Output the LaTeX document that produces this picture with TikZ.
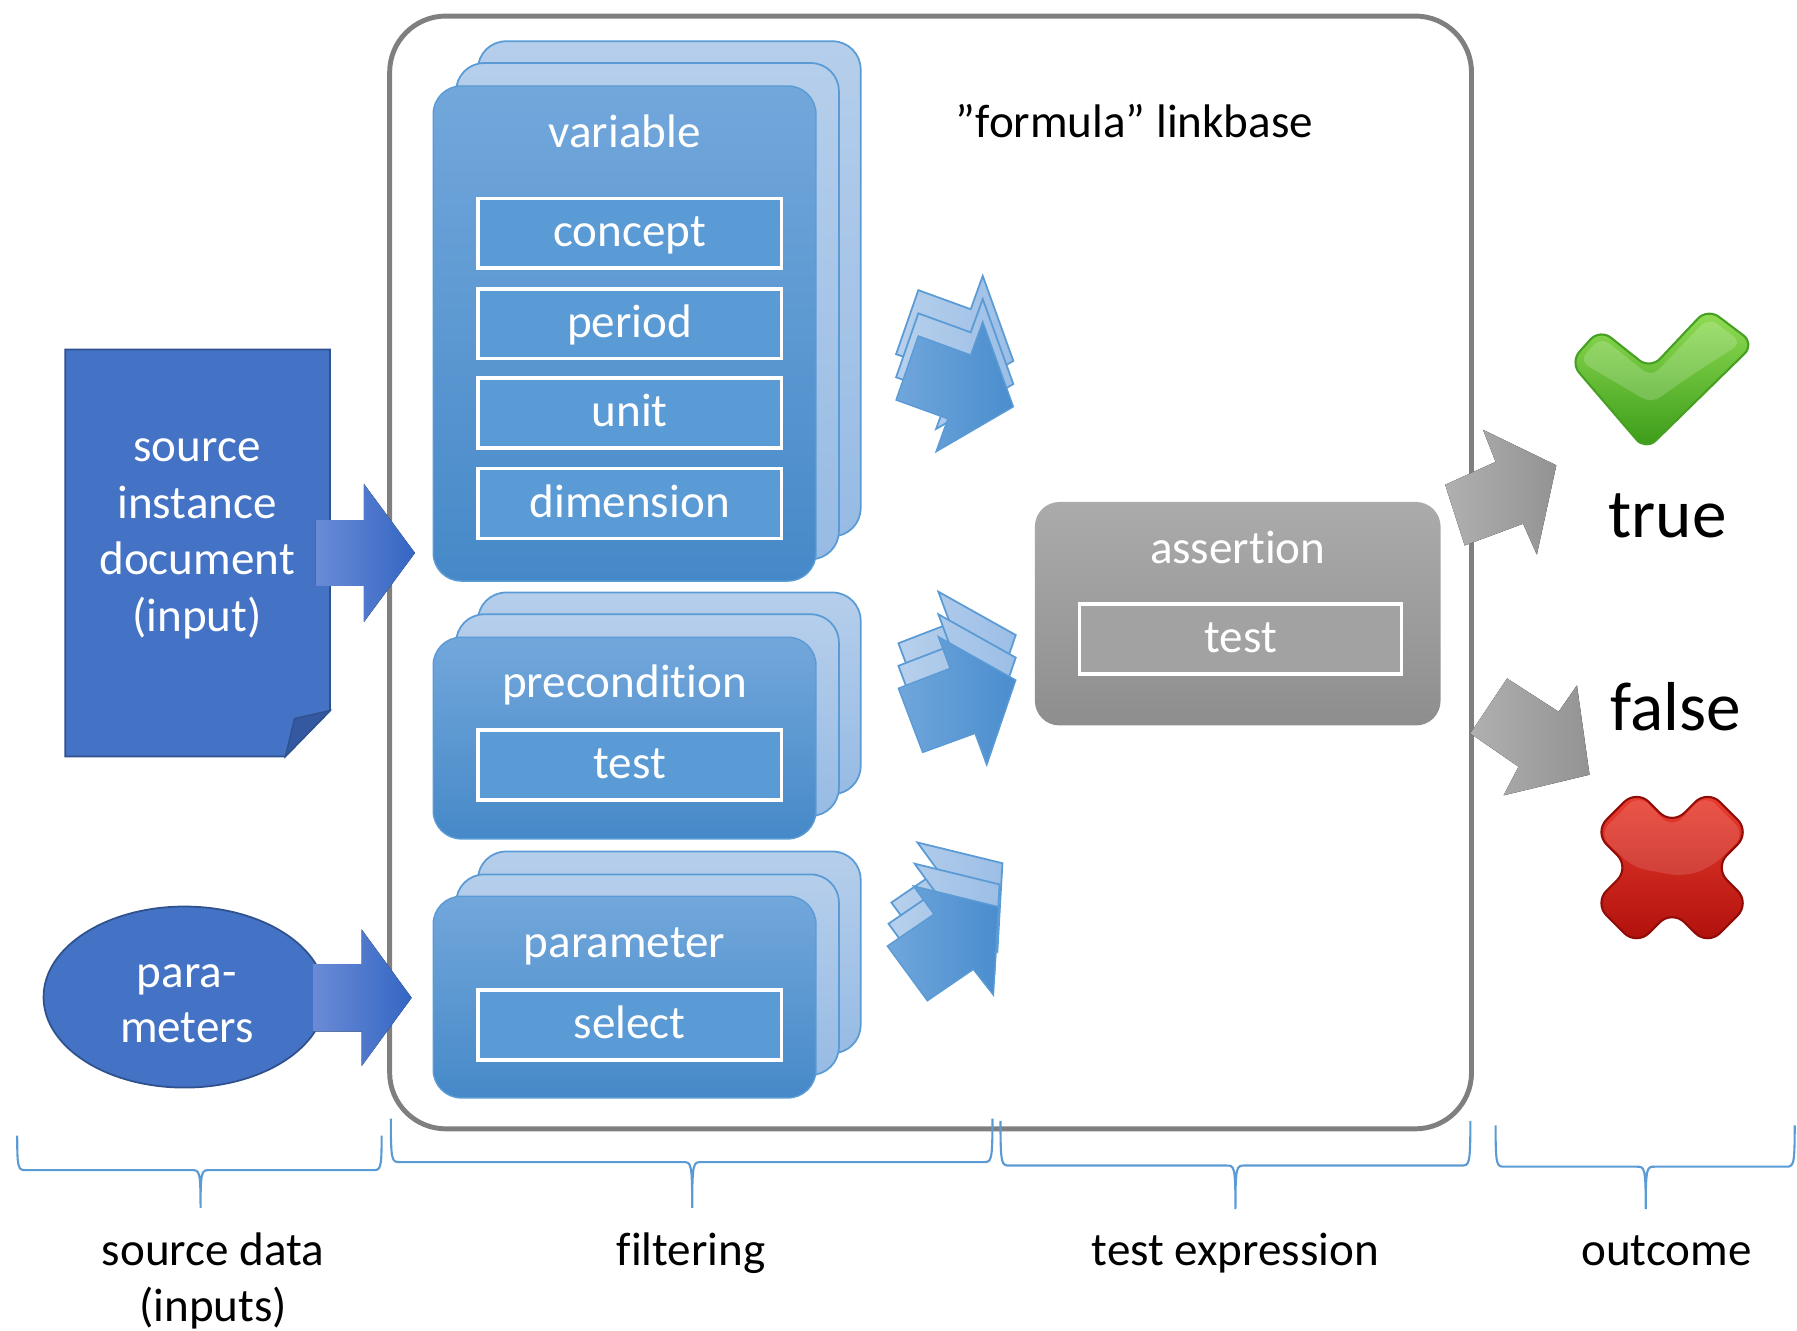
\documentclass[tikz,border=0pt]{standalone}
\usepackage{fontspec}
\setmainfont[RawFeature={-liga;-clig;-dlig;-calt;-rlig}]{Carlito}
\usetikzlibrary{calc}

\definecolor{frameGray}{HTML}{7F7F7F}
\definecolor{cardTop}{HTML}{72A7DB}
\definecolor{cardBot}{HTML}{4689C8}
\definecolor{cardEdge}{HTML}{5B9BD5}
\definecolor{backTop}{HTML}{B5CEEB}
\definecolor{backBot}{HTML}{97BBE4}
\definecolor{slotBlue}{HTML}{5B9BD5}
\definecolor{docBlue}{HTML}{4472C4}
\definecolor{docEdge}{HTML}{2F528F}
\definecolor{docFold}{HTML}{3459A0}
\definecolor{feedLight}{HTML}{6A8BD6}
\definecolor{feedDark}{HTML}{3466C3}
\definecolor{flowFrontL}{HTML}{70A6DB}
\definecolor{flowFrontR}{HTML}{4A8DCE}
\definecolor{flowBackL}{HTML}{B7D0EC}
\definecolor{flowBackR}{HTML}{9CBEE6}
\definecolor{assertTop}{HTML}{ABABAB}
\definecolor{assertBot}{HTML}{8E8E8E}
\definecolor{assertSlot}{HTML}{A2A2A2}
\definecolor{resultL}{HTML}{B0B0B0}
\definecolor{resultR}{HTML}{939393}
\definecolor{checkTop}{HTML}{92DE55}
\definecolor{checkBot}{HTML}{3A9A18}
\definecolor{checkEdge}{HTML}{46A021}
\definecolor{crossTop}{HTML}{EC3F30}
\definecolor{crossBot}{HTML}{AE0F0B}
\definecolor{crossEdge}{HTML}{900C09}
\definecolor{braceBlue}{HTML}{5B9BD5}

\tikzset{
  lbl/.style={inner sep=0pt, text height=1ex, text depth=0pt,
              font=\fontsize{13.4pt}{16pt}\selectfont},
  wlbl/.style={lbl, text=white},
  biglbl/.style={inner sep=0pt, text height=1ex, text depth=0pt,
                 font=\fontsize{19.7pt}{23pt}\selectfont},
  frame/.style={draw=frameGray, line width=1.4pt, rounded corners=16pt},
  frontcard/.style={rounded corners=8pt, top color=cardTop, bottom color=cardBot,
                    draw=cardEdge, line width=0.4pt},
  backcard/.style={rounded corners=8pt, top color=backTop, bottom color=backBot,
                   draw=cardEdge, line width=0.5pt},
  slot/.style={fill=slotBlue, draw=white, line width=1pt},
  docshape/.style={fill=docBlue, draw=docEdge, line width=0.5pt},
  foldshape/.style={fill=docFold, draw=docEdge, line width=0.4pt},
  feedarrow/.style={left color=feedLight, right color=feedDark},
  flowfront/.style={left color=flowFrontL, right color=flowFrontR,
                    draw=cardEdge, line width=0.4pt},
  flowback/.style={left color=flowBackL, right color=flowBackR,
                   draw=cardEdge, line width=0.5pt},
  assertcard/.style={rounded corners=7pt, top color=assertTop, bottom color=assertBot},
  assertslot/.style={fill=assertSlot, draw=white, line width=1pt},
  resultarrow/.style={left color=resultL, right color=resultR},
  bracket/.style={draw=braceBlue, line width=0.6pt},
}

% curly bracket: left x, right x, middle x, top y, line y, tip y
\newcommand\groupbrace[6]{%
  \draw[bracket] (#1,#4) .. controls (#1,#5) and ({#1+1},#5) .. ({#1+8},#5)
    -- ({#3-8},#5) .. controls ({#3-1},#5) and (#3,#5) .. (#3,#6)
    .. controls (#3,#5) and ({#3+1},#5) .. ({#3+8},#5)
    -- ({#2-8},#5) .. controls ({#2-1},#5) and (#2,#5) .. (#2,#4);}

\begin{document}
\begin{tikzpicture}[x=0.011461cm, y=-0.011461cm]
\useasboundingbox (0,0) rectangle (1568,1161);

% ---------- linkbase frame ----------
\draw[frame] (340,14) rectangle (1284,985);
\node[lbl] (linkbase) at (990,113) {”formula” linkbase};

% ---------- variable stack ----------
\path[backcard]  (417,36) rectangle (751,468);
\path[backcard]  (398,55) rectangle (732,488);
\path[frontcard] (378,75) rectangle (712,507);
\node[wlbl] (variable) at (545,121) {variable};
\path[slot] (417,173) rectangle (682,234);
\path[slot] (417,252) rectangle (682,313);
\path[slot] (417,330) rectangle (682,391);
\path[slot] (417,409) rectangle (682,470);
\node[wlbl] (concept)   at (549.5,208) {concept};
\node[wlbl] (period)    at (549.5,287) {period};
\node[wlbl] (unit)      at (549.5,365) {unit};
\node[wlbl] (dimension) at (549.5,444) {dimension};

% ---------- precondition stack ----------
\path[backcard]  (417,517) rectangle (751,693);
\path[backcard]  (398,536) rectangle (732,712);
\path[frontcard] (378,556) rectangle (712,732);
\node[wlbl] (precondition) at (545,601) {precondition};
\path[slot] (417,637) rectangle (682,698);
\node[wlbl] (pretest) at (549.5,672) {test};

% ---------- parameter stack ----------
\path[backcard]  (417,743) rectangle (751,919);
\path[backcard]  (398,763) rectangle (732,938);
\path[frontcard] (378,782) rectangle (712,958);
\node[wlbl] (parameter) at (545,828) {parameter};
\path[slot] (417,864) rectangle (682,925);
\node[wlbl] (select) at (549.5,899) {select};

% ---------- source instance document ----------
\draw[docshape] (57,305) -- (288,305) -- (288,620) -- (249,660) -- (57,660) -- cycle;
\draw[foldshape] (288,620) -- (257,627) -- (249,660) -- cycle;
\node[wlbl] (src1) at (172,395) {source};
\node[wlbl] (src2) at (172,445) {instance};
\node[wlbl] (src3) at (172,494) {document};
\node[wlbl] (src4) at (172,544) {(input)};

% ---------- parameters ellipse ----------
\draw[docshape] (161,870) ellipse [x radius=123, y radius=79];
\node[wlbl] (par1) at (163,854) {para-};
\node[wlbl] (par2) at (163,902) {meters};

% ---------- input arrows ----------
\fill[feedarrow] (275.7,453.8) -- (317.6,453.8) -- (317.6,422.3) -- (362.1,482.5)
  -- (317.6,542.7) -- (317.6,511.3) -- (275.7,511.3) -- cycle;
\fill[feedarrow] (273.4,841.2) -- (315.6,841.2) -- (315.6,811) -- (359.2,870.6)
  -- (315.6,930.2) -- (315.6,900.2) -- (273.4,900.2) -- cycle;

% ---------- flow arrows towards the assertion ----------
\foreach \dy/\kind in {-40/back,-19.8/back,0/front}{
  \path[flow\kind, shift={(0,\dy)}] (801.3,293.2) -- (847,309.8) -- (857.5,280.7)
    -- (884.2,354.9) -- (816.8,394.1) -- (827.1,365.4) -- (781.9,349) -- cycle;
}
\foreach \dy/\kind in {-39.3/back,-19.6/back,0/front}{
  \path[flow\kind, shift={(0,\dy)}] (783.9,600.6) -- (829,583.2) -- (818.8,555.6)
    -- (886.3,593.4) -- (861,667.5) -- (850.8,639.9) -- (805.1,656.5) -- cycle;
}
\foreach \dx/\dy/\kind in {3.5/-38/back,1/-19.5/back,0/0/front}{
  \path[flow\kind, shift={(\dx,\dy)}] (774.3,825.5) -- (815,797.7) -- (797,773.1)
    -- (871.2,791.2) -- (866.8,868.2) -- (849.3,845.8) -- (809.2,873.2) -- cycle;
}

% ---------- assertion ----------
\path[assertcard] (903,438) rectangle (1257,633);
\node[wlbl] (assertion) at (1080,484) {assertion};
\path[assertslot] (942,527) rectangle (1223,588);
\node[wlbl] (atest) at (1082.5,562) {test};

% ---------- outcome arrows ----------
\fill[resultarrow] (1261,423) -- (1305,403) -- (1294,375) -- (1358,406)
  -- (1341,484) -- (1329,457) -- (1278,476) -- cycle;
\fill[resultarrow] (1315,592) -- (1360,621) -- (1376,598) -- (1387,676)
  -- (1312,694) -- (1325,669) -- (1283,640) -- cycle;

% ---------- check mark ----------
\path[top color=checkTop, bottom color=checkBot, draw=checkEdge, line width=0.6pt,
      rounded corners=4pt]
  (1370,316) -- (1396,287) -- (1440,322) -- (1490,269)
  -- (1531,300) -- (1436,393) -- cycle;
\fill[white, opacity=0.18, rounded corners=3pt]
  (1378,315) -- (1397,294) -- (1441,329) -- (1491,277) -- (1520,299) -- (1472,330)
  -- (1441,352) -- cycle;

% ---------- cross ----------
\path[top color=crossTop, bottom color=crossBot, draw=crossEdge, line width=0.6pt,
      rounded corners=5pt, shift={(1459,757)}]
  (-31,-68) -- (0,-37) -- (31,-68) -- (68,-31) -- (37,0) -- (68,31) -- (31,68)
  -- (0,37) -- (-31,68) -- (-68,31) -- (-37,0) -- (-68,-31) -- cycle;
\fill[white, opacity=0.13, rounded corners=4pt, shift={(1459,757)}]
  (-29,-64) -- (0,-34) -- (29,-64) -- (64,-29) -- (34,0) -- (10,8) -- (-34,0)
  -- (-64,-29) -- cycle;

\node[biglbl] (true)  at (1455,462) {true};
\node[biglbl] (false) at (1462,630) {false};

% ---------- group brackets and captions ----------
\groupbrace{15}{333}{175}{991}{1021}{1054}
\groupbrace{341}{866}{604}{976}{1014}{1054}
\groupbrace{873}{1283}{1078}{978}{1017}{1055}
\groupbrace{1305}{1566}{1436}{982}{1018}{1055}

\node[lbl] (cap1a) at (186,1097) {source data};
\node[lbl] (cap1b) at (186,1146) {(inputs)};
\node[lbl] (cap2)  at (603,1097) {filtering};
\node[lbl] (cap3)  at (1078,1097) {test expression};
\node[lbl] (cap4)  at (1454,1097) {outcome};
\end{tikzpicture}
\end{document}
